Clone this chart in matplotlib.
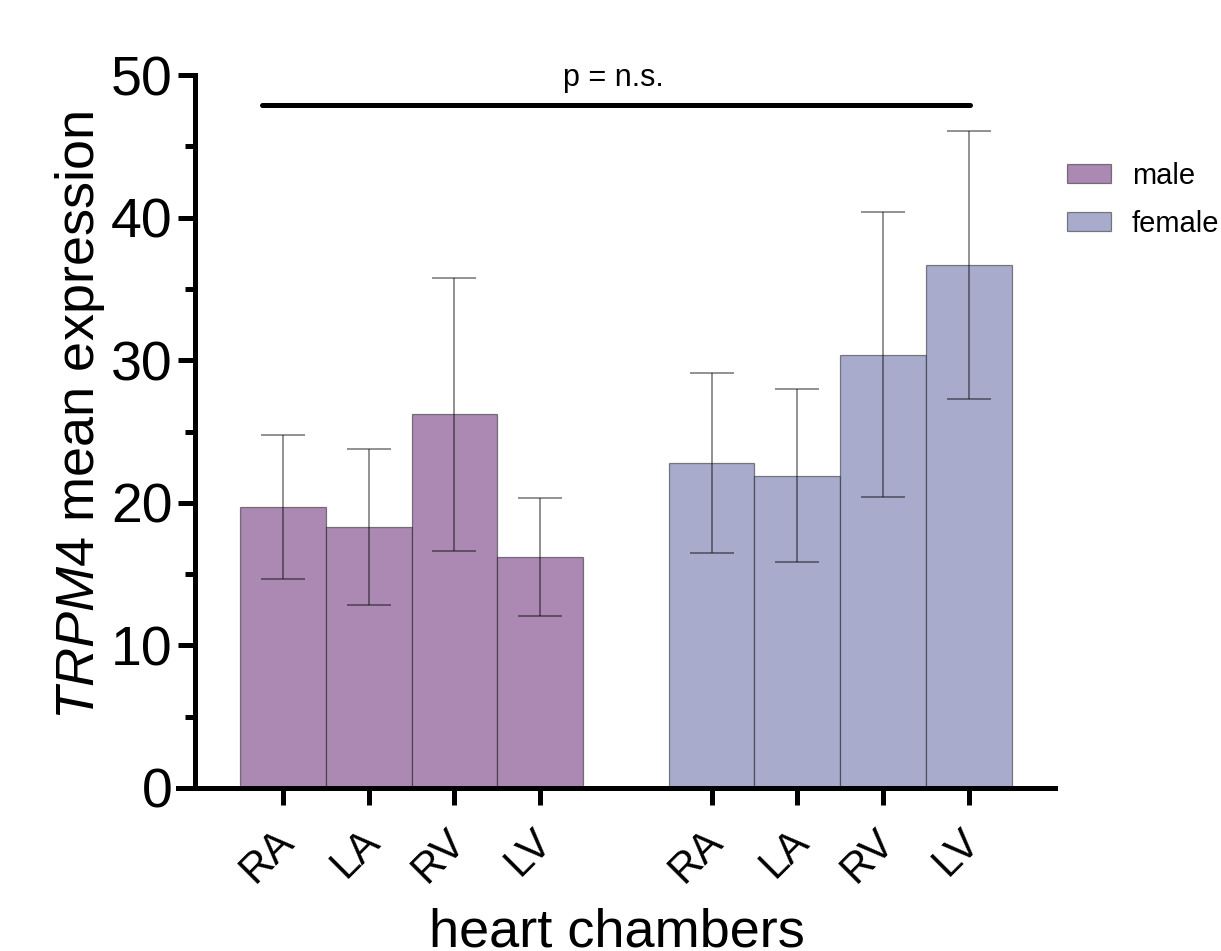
import numpy as np
import matplotlib.pyplot as plt
import matplotlib.transforms as mtransforms
from matplotlib.ticker import MultipleLocator

plt.rcParams['font.family'] = ['Liberation Sans', 'DejaVu Sans']
plt.rcParams['mathtext.fontset'] = 'custom'
plt.rcParams['mathtext.rm'] = 'Liberation Sans'
plt.rcParams['mathtext.it'] = 'Liberation Sans:italic'

chambers = ['RA', 'LA', 'RV', 'LV']
male_mean = [19.7, 18.3, 26.2, 16.2]
male_err = [5.05, 5.5, 9.6, 4.15]
female_mean = [22.8, 21.9, 30.4, 36.7]
female_err = [6.3, 6.05, 10.0, 9.4]

male_color = '#ab89b3'
female_color = '#a8abcb'

fig = plt.figure(figsize=(12.21, 9.51), dpi=100)
ax = fig.add_axes([0.1458, 0.1714, 0.8642 - 0.1458, 0.9211 - 0.1714])

male_x = np.arange(4)
female_x = np.arange(4) + 5

err_kw = dict(ecolor=(0, 0, 0, 0.5), elinewidth=1.2, capsize=15.5, capthick=1.2)
ax.bar(male_x, male_mean, width=1.0, color=male_color, edgecolor=(0, 0, 0, 0.45),
       linewidth=0.9, yerr=male_err, error_kw=err_kw, label='male')
ax.bar(female_x, female_mean, width=1.0, color=female_color, edgecolor=(0, 0, 0, 0.45),
       linewidth=0.9, yerr=female_err, error_kw=err_kw, label='female')

# significance bar
ax.plot([-0.24, 8.02], [47.9, 47.9], color='black', lw=3.6, solid_capstyle='round')
ax.text(3.85, 49.2, 'p = n.s.', ha='center', va='baseline', fontsize=22)

ax.set_ylim(0, 50)
ax.set_xlim(-1.225, 9.008)
ax.yaxis.set_major_locator(MultipleLocator(10))
ax.yaxis.set_minor_locator(MultipleLocator(5))
ax.set_xticks(list(male_x) + list(female_x))
ax.set_xticklabels(chambers + chambers, rotation=45, ha='right',
                   rotation_mode='anchor', fontsize=30)

for s in ['top', 'right']:
    ax.spines[s].set_visible(False)
ax.spines['left'].set_position(('axes', 0.0194))
ax.spines['left'].set_linewidth(3.6)
ax.spines['bottom'].set_linewidth(3.6)
ax.tick_params(axis='y', which='major', length=12, width=3.6, labelsize=40, pad=4)
ax.tick_params(axis='y', which='minor', length=7, width=3.6)
ax.tick_params(axis='x', which='major', length=12, width=3.6, pad=12)

# nudge the rotated labels a bit to the left (after tick_params, which resets transforms)
shift = mtransforms.ScaledTranslation(-9 / 100, 0, fig.dpi_scale_trans)
for lbl in ax.get_xticklabels():
    lbl.set_transform(lbl.get_transform() + shift)

ax.set_ylabel('$\\mathit{TRPM4}$ mean expression', fontsize=39, labelpad=3)
ax.yaxis.label.set_y(0.523)
ax.set_xlabel('heart chambers', fontsize=39, labelpad=12)

fig.legend(handles=ax.patches[:1] + ax.patches[4:5], labels=['male', 'female'],
           loc='upper left', bbox_to_anchor=(1067 / 1221, 1 - 162 / 951),
           frameon=False, fontsize=21, borderpad=0, borderaxespad=0,
           handlelength=1.5, handleheight=0.62, handletextpad=0.72, labelspacing=0.68)

plt.savefig('out.png')
